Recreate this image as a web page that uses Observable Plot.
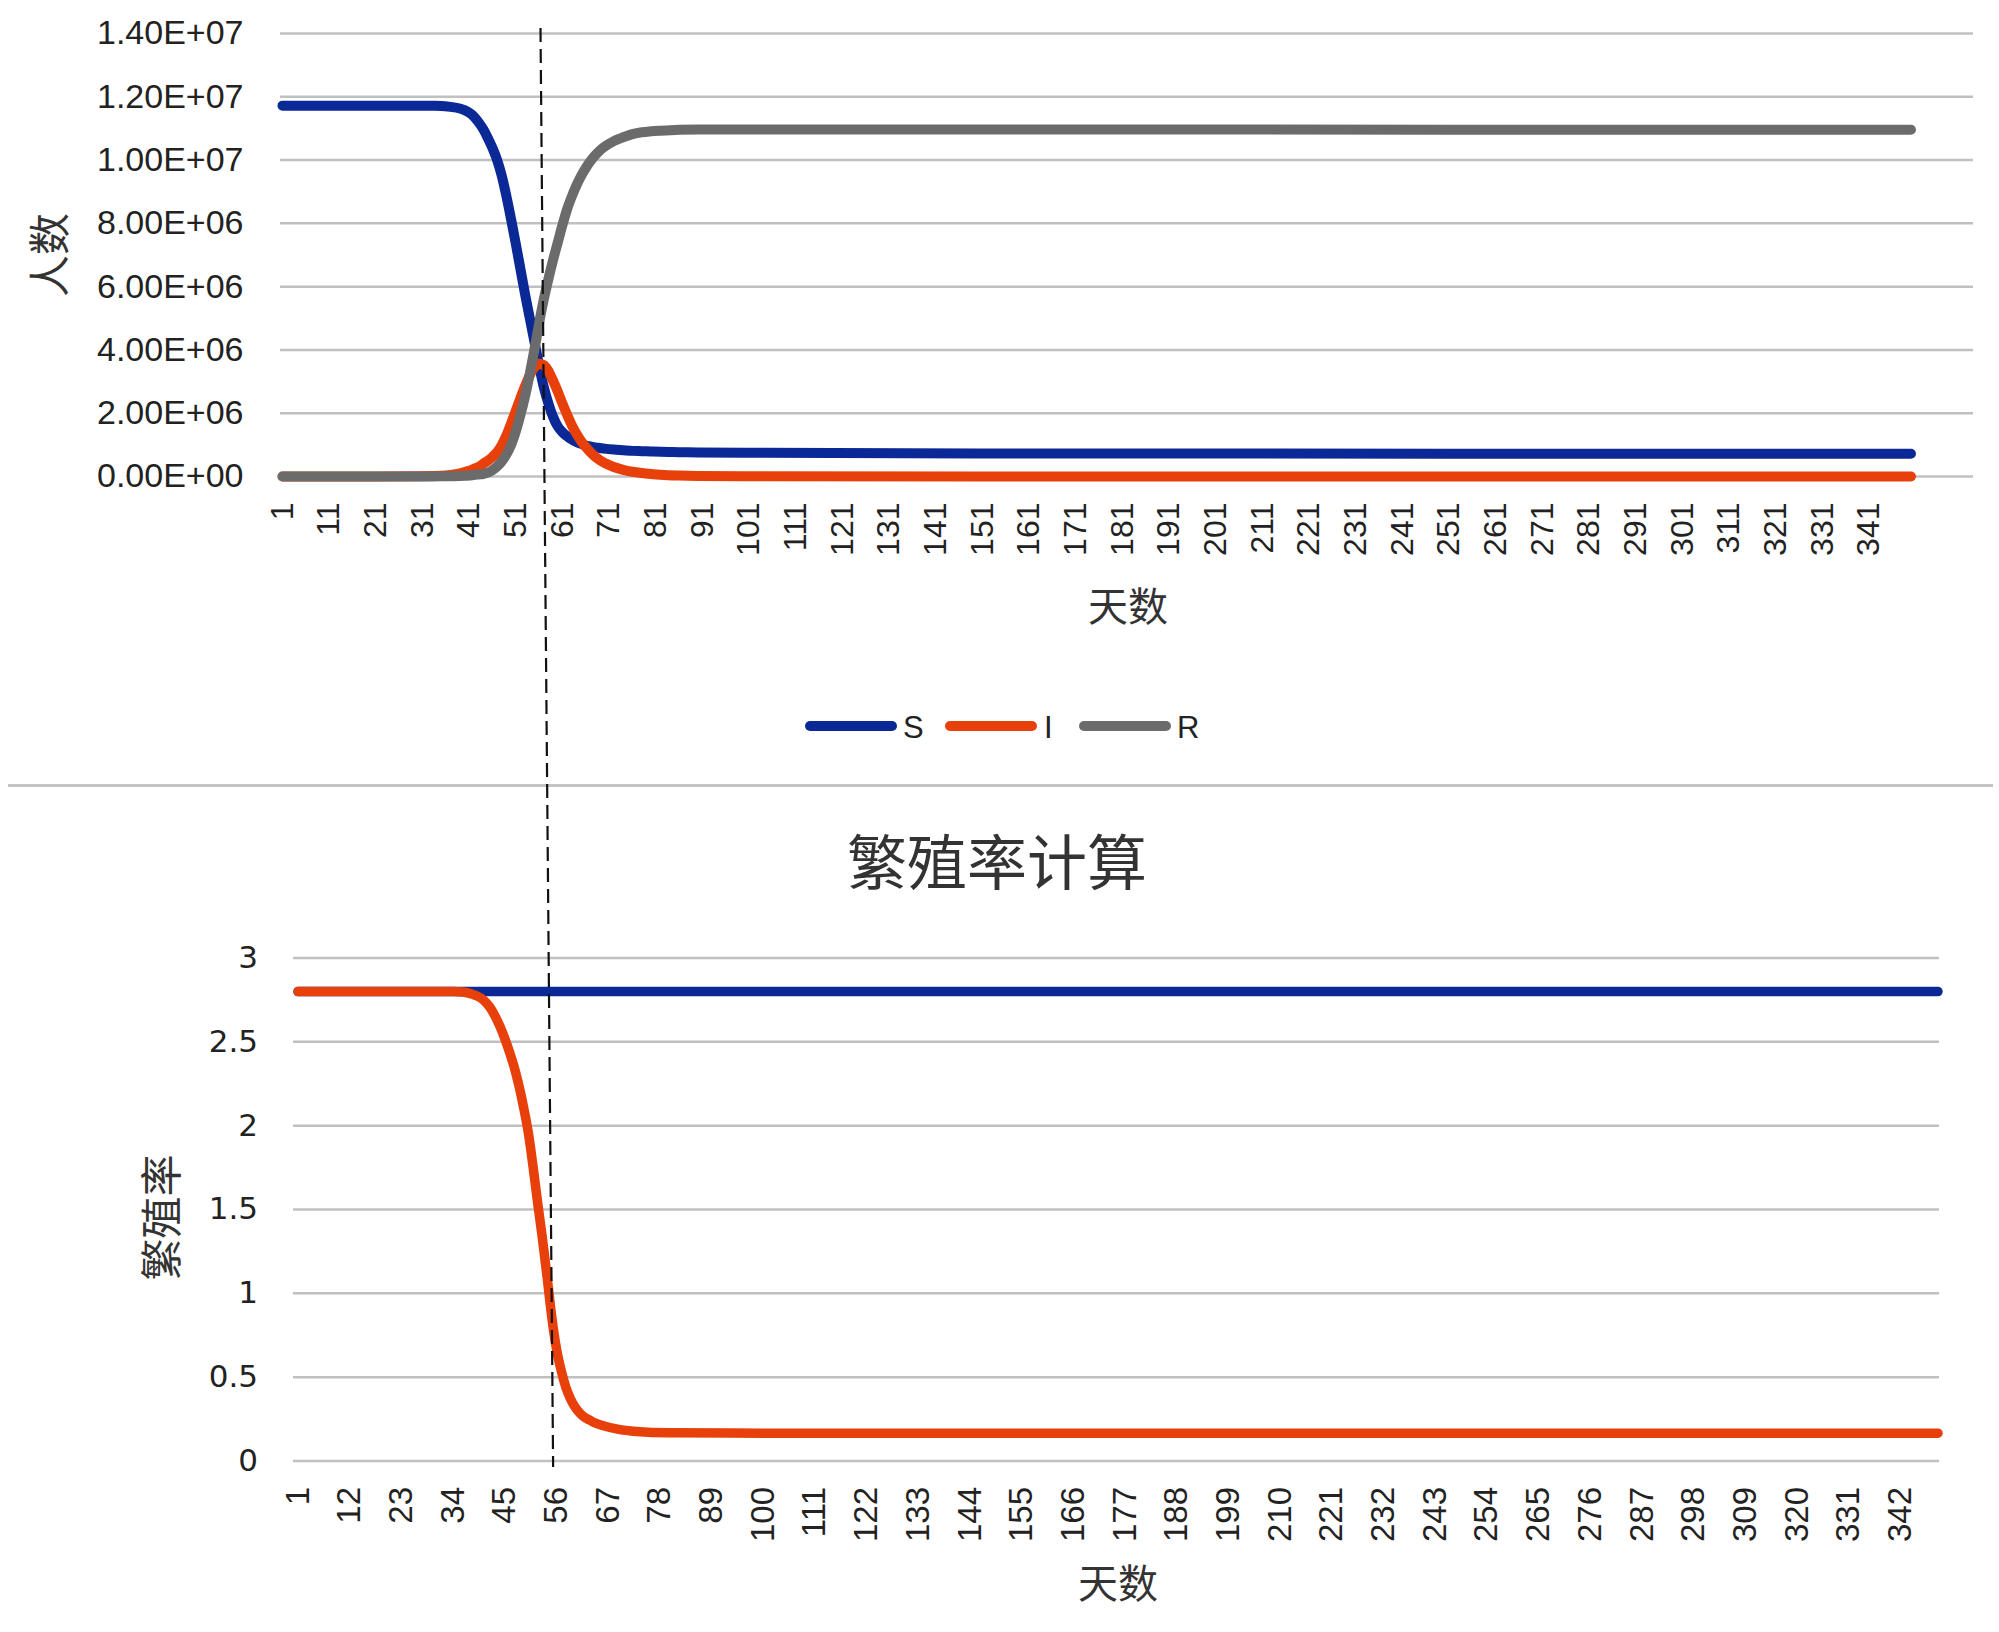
<!DOCTYPE html>
<html>
<head>
<meta charset="utf-8">
<script src="https://cdn.jsdelivr.net/npm/d3@7"></script>
<script src="https://cdn.jsdelivr.net/npm/@observablehq/plot@0.6"></script>
<style>
  html, body { margin: 0; padding: 0; background: #fff; }
  #page { position: relative; width: 1999px; height: 1632px; overflow: hidden; background: #fff; }
  .abs { position: absolute; }
  .sw { position: absolute; width: 92px; height: 10px; border-radius: 5px; }
  .lab { position: absolute; font-family: 'Liberation Sans', sans-serif; font-size: 31px; color: #222; line-height: 1; transform: translateY(-50%); }
  #title { font-family: 'Noto Sans CJK SC', sans-serif; font-size: 60px; color: #333; transform: translate(-50%, -50%); white-space: nowrap; }
</style>
</head>
<body>
<div id="page"></div>
<script>
// ---------- data: SIR model (top chart) ----------
const sirDays = [1, 20, 30, 33, 35, 37, 39, 40, 41, 42, 43, 44, 45, 46, 47, 48, 49, 50, 51, 52, 53, 54, 55, 56, 57, 58, 59, 60, 61, 62, 63, 64, 65, 66, 67, 68, 69, 70, 72, 74, 76, 78, 80, 82, 86, 90, 100, 150, 250, 350];
const sValues = [11.72e6, 11.72e6, 11.72e6, 11.715e6, 11.71e6, 11.68e6, 11.63e6, 11.58e6, 11.50e6, 11.38e6, 11.20e6, 10.98e6, 10.70e6, 10.38e6, 10.00e6, 9.50e6, 8.85e6, 8.12e6, 7.35e6, 6.55e6, 5.75e6, 5.00e6, 4.25e6, 3.50e6, 2.82e6, 2.30e6, 1.88e6, 1.58e6, 1.40e6, 1.27e6, 1.17e6, 1.09e6, 1.03e6, 0.98e6, 0.95e6, 0.92e6, 0.90e6, 0.88e6, 0.85e6, 0.83e6, 0.81e6, 0.80e6, 0.79e6, 0.78e6, 0.77e6, 0.76e6, 0.75e6, 0.73e6, 0.72e6, 0.72e6];
const iValues = [0, 0.002e6, 0.008e6, 0.013e6, 0.02e6, 0.05e6, 0.10e6, 0.14e6, 0.18e6, 0.24e6, 0.30e6, 0.40e6, 0.50e6, 0.62e6, 0.77e6, 1.00e6, 1.30e6, 1.68e6, 2.08e6, 2.48e6, 2.86e6, 3.20e6, 3.45e6, 3.56e6, 3.52e6, 3.33e6, 3.02e6, 2.68e6, 2.30e6, 1.95e6, 1.62e6, 1.35e6, 1.12e6, 0.93e6, 0.77e6, 0.63e6, 0.52e6, 0.43e6, 0.30e6, 0.21e6, 0.15e6, 0.11e6, 0.08e6, 0.055e6, 0.028e6, 0.015e6, 0.005e6, 0, 0, 0];
const rValues = [0, 0, 0.002e6, 0.003e6, 0.005e6, 0.01e6, 0.015e6, 0.02e6, 0.03e6, 0.05e6, 0.065e6, 0.08e6, 0.12e6, 0.20e6, 0.32e6, 0.48e6, 0.70e6, 1.00e6, 1.42e6, 1.95e6, 2.55e6, 3.25e6, 4.02e6, 4.85e6, 5.60e6, 6.25e6, 6.85e6, 7.40e6, 7.95e6, 8.45e6, 8.85e6, 9.20e6, 9.50e6, 9.75e6, 9.97e6, 10.15e6, 10.30e6, 10.42e6, 10.60e6, 10.72e6, 10.82e6, 10.88e6, 10.91e6, 10.93e6, 10.96e6, 10.97e6, 10.97e6, 10.97e6, 10.96e6, 10.96e6];
const sirSeries = ["S", "I", "R"];
const sirColors = ["#0a2896", "#e8400a", "#6b6b6b"];
const topYTicks = [0, 2e6, 4e6, 6e6, 8e6, 1e7, 1.2e7, 1.4e7];
const topXTicks = d3.range(1, 342, 10);

// ---------- data: reproduction rate (bottom chart) ----------
const r0Days = [1, 350];
const r0Values = [2.8, 2.8];
const rtDays = [1, 30, 34, 36, 38, 40, 41, 42, 43, 44, 45, 46, 47, 48, 49, 50, 51, 52, 53, 54, 55, 56, 57, 58, 59, 60, 61, 62, 63, 64, 66, 69, 73, 80, 100, 350];
const rtValues = [2.8, 2.8, 2.8, 2.797, 2.785, 2.76, 2.735, 2.70, 2.65, 2.59, 2.52, 2.44, 2.35, 2.24, 2.11, 1.96, 1.76, 1.54, 1.33, 1.10, 0.86, 0.67, 0.54, 0.44, 0.37, 0.32, 0.285, 0.26, 0.245, 0.23, 0.21, 0.19, 0.176, 0.168, 0.166, 0.166];
const botYTicks = [0, 0.5, 1, 1.5, 2, 2.5, 3];
const botXTicks = d3.range(1, 343, 11);

// dashed marker: day at top of upper chart and at bottom of lower chart
const markerDays = [56.4, 55.4];
const markerValues = [1.4158e7, -0.039];

// ---------- helpers ----------
function fmtE(d) {
  const [m, e] = d.toExponential(2).split("e");
  const sign = e[0] === "-" ? "-" : "+";
  const digits = e.replace(/[+-]/, "").padStart(2, "0");
  return `${m}E${sign}${digits}`;
}
const baseFont = "'Liberation Sans', 'Noto Sans CJK SC', sans-serif";
const cjkFont = "'Noto Sans CJK SC', sans-serif";
const page = document.getElementById("page");

// ---------- top chart ----------
const sirRows = sirDays.flatMap((day, i) => [
  {day, series: "S", v: sValues[i]},
  {day, series: "I", v: iValues[i]},
  {day, series: "R", v: rValues[i]}
]);

const topChart = Plot.plot({
  width: 1999, height: 650,
  marginLeft: 282, marginRight: 26, marginTop: 33, marginBottom: 174,
  x: {domain: [1, 363.4]},
  y: {domain: [0, 1.4e7]},
  color: {domain: sirSeries, range: sirColors},
  style: {fontFamily: baseFont, color: "#222", background: "transparent", overflow: "visible"},
  marks: [
    Plot.ruleY(topYTicks, {stroke: "#c0c0c0", strokeWidth: 2.5, insetLeft: -2}),
    Plot.axisY({ticks: topYTicks, tickSize: 0, tickPadding: 39, tickFormat: fmtE, label: null, fontSize: 34}),
    Plot.axisX({ticks: topXTicks, tickSize: 0, tickPadding: 26, tickRotate: -90, label: null, fontSize: 32}),
    Plot.text(["人数"], {text: d => d, frameAnchor: "left", textAnchor: "middle", dx: -231, rotate: -90, fontSize: 42, fontFamily: cjkFont, fill: "#333"}),
    Plot.text(["天数"], {text: d => d, frameAnchor: "bottom", dy: 144, fontSize: 40, fontFamily: cjkFont, fill: "#333"}),
    Plot.line(sirRows, {x: "day", y: "v", z: "series", stroke: "series", strokeWidth: 10, strokeLinecap: "round", strokeLinejoin: "round", curve: "monotone-x"})
  ]
});
topChart.style.position = "absolute";
topChart.style.left = "0px";
topChart.style.top = "0px";
page.appendChild(topChart);

// legend (below the upper chart)
const legendSwatchX = [805, 945, 1079];
const legendLabelX = [903, 1044, 1177];
const legendY = 726;
sirSeries.forEach((s, i) => {
  const sw = document.createElement("div");
  sw.className = "sw";
  sw.style.left = legendSwatchX[i] + "px";
  sw.style.top = (legendY - 5) + "px";
  sw.style.background = sirColors[i];
  page.appendChild(sw);
  const lb = document.createElement("div");
  lb.className = "lab";
  lb.style.left = legendLabelX[i] + "px";
  lb.style.top = (legendY + 1) + "px";
  lb.textContent = s;
  page.appendChild(lb);
});

// separator between the two charts
const sep = document.createElement("div");
sep.className = "abs";
Object.assign(sep.style, {left: "8px", top: "784px", width: "1985px", height: "3px", background: "#c4c4c4"});
page.appendChild(sep);

// title of lower chart
const title = document.createElement("div");
title.id = "title";
title.className = "abs";
title.style.left = "997px";
title.style.top = "858px";
title.textContent = "繁殖率计算";
page.appendChild(title);

// ---------- bottom chart ----------
const rRows = [
  ...r0Days.map((day, i) => ({day, series: "R0", v: r0Values[i]})),
  ...rtDays.map((day, i) => ({day, series: "Rt", v: rtValues[i]}))
];

const botTop = 900;
const botChart = Plot.plot({
  width: 1999, height: 732,
  marginLeft: 297.5, marginRight: 61.5, marginTop: 57.5, marginBottom: 171.5,
  x: {domain: [1, 350]},
  y: {domain: [0, 3]},
  color: {domain: ["R0", "Rt"], range: ["#0a2896", "#e8400a"]},
  style: {fontFamily: baseFont, color: "#222", background: "transparent", overflow: "visible"},
  marks: [
    Plot.ruleY(botYTicks, {stroke: "#c0c0c0", strokeWidth: 2.5, insetLeft: -4.5, insetRight: -1.5}),
    Plot.axisY({ticks: botYTicks, tickSize: 0, tickPadding: 40, tickFormat: d => String(d), label: null, fontSize: 31, fontFamily: "'DejaVu Sans', sans-serif"}),
    Plot.axisX({ticks: botXTicks, tickSize: 0, tickPadding: 26, tickRotate: -90, label: null, fontSize: 33}),
    Plot.text(["繁殖率"], {text: d => d, frameAnchor: "left", textAnchor: "middle", dx: -134.5, dy: 8, rotate: -90, fontSize: 42, fontFamily: cjkFont, fill: "#333"}),
    Plot.text(["天数"], {text: d => d, frameAnchor: "bottom", dy: 137, fontSize: 40, fontFamily: cjkFont, fill: "#333"}),
    Plot.line(rRows, {x: "day", y: "v", z: "series", stroke: "series", strokeWidth: 9.5, strokeLinecap: "round", strokeLinejoin: "round", curve: "monotone-x"})
  ]
});
botChart.style.position = "absolute";
botChart.style.left = "0px";
botChart.style.top = botTop + "px";
page.appendChild(botChart);

// ---------- dashed marker across both charts ----------
const tx = topChart.scale("x").apply(markerDays[0]);
const ty = topChart.scale("y").apply(markerValues[0]);
const bx = botChart.scale("x").apply(markerDays[1]);
const by = botTop + botChart.scale("y").apply(markerValues[1]);
const ns = "http://www.w3.org/2000/svg";
const ov = document.createElementNS(ns, "svg");
ov.setAttribute("width", 1999);
ov.setAttribute("height", 1632);
ov.setAttribute("class", "abs");
ov.style.left = "0px";
ov.style.top = "0px";
ov.style.pointerEvents = "none";
const ln = document.createElementNS(ns, "line");
ln.setAttribute("x1", tx); ln.setAttribute("y1", ty);
ln.setAttribute("x2", bx); ln.setAttribute("y2", by);
ln.setAttribute("stroke", "#111");
ln.setAttribute("stroke-width", 2.2);
ln.setAttribute("stroke-dasharray", "14 7");
ov.appendChild(ln);
page.appendChild(ov);
</script>
</body>
</html>
